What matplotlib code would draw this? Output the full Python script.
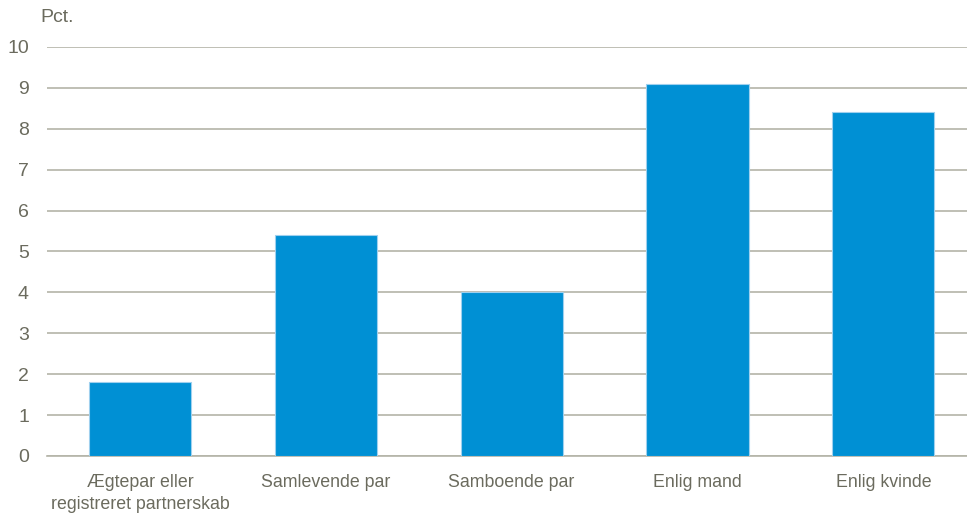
import matplotlib
matplotlib.use("Agg")
import matplotlib.pyplot as plt
import numpy as np

plt.rcParams.update({
    "font.family": ["Liberation Sans", "DejaVu Sans"],
    "font.size": 13.5,
})

categories = ["Ægtepar eller\nregistreret partnerskab", "Samlevende par",
              "Samboende par", "Enlig mand", "Enlig kvinde"]
values = [1.8, 5.4, 4.0, 9.1, 8.4]
yticks = list(range(0, 11))

TEXT = "#6b6b5e"
GRID = "#b4b4a8"
BAR = "#0090d4"

fig = plt.figure(figsize=(9.67, 5.15), dpi=100)
ax = fig.add_axes([47/967, 59/515, 1 - 47/967, 409/515])

x = np.arange(len(categories))
ax.bar(x, values, 0.55, color=BAR, edgecolor="#9fd0ee", linewidth=0.8, zorder=3)

ax.set_xlim(-0.5, 4.45)
ax.set_ylim(0, 10)
ax.set_yticks(yticks)
ax.set_xticks(x)
ax.set_xticklabels(categories, color=TEXT, fontsize=12.8, linespacing=1.35)
ax.tick_params(axis="y", length=0, pad=13, labelcolor=TEXT, labelsize=14)
ax.tick_params(axis="x", length=0, pad=13)
ax.grid(axis="y", color=GRID, lw=1.2, zorder=0)
for s in ["top", "right", "left"]:
    ax.spines[s].set_visible(False)
ax.spines["bottom"].set_color(GRID)
ax.spines["bottom"].set_linewidth(1.2)

fig.text(40/967, 1 - 18/515, "Pct.", color=TEXT, fontsize=14, ha="left", va="center")

fig.savefig("out.png", dpi=100)
